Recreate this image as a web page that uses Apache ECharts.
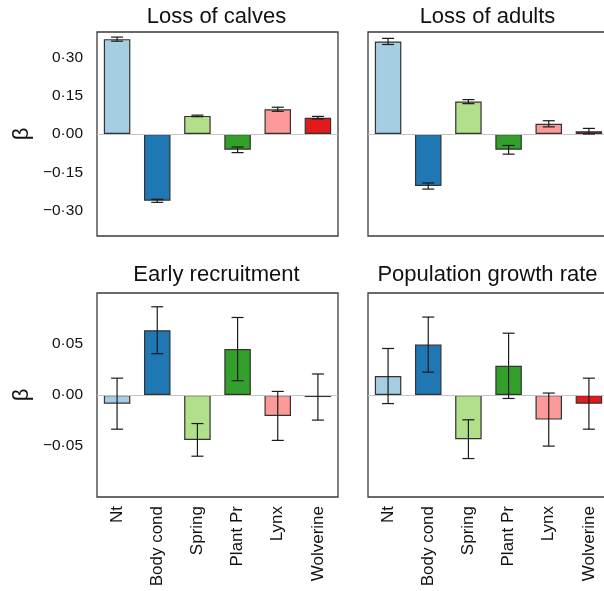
<!DOCTYPE html>
<html>
<head>
<meta charset="utf-8">
<script src="https://cdn.jsdelivr.net/npm/echarts@6/dist/echarts.min.js"></script>
<style>
html,body{margin:0;padding:0;background:#fff;}
#chart{width:604px;height:591px;}
</style>
</head>
<body>
<div id="chart"></div>
<script>
const categories = ['Nt', 'Body cond', 'Spring', 'Plant Pr', 'Lynx', 'Wolverine'];
const panelTitles = ['Loss of calves', 'Loss of adults', 'Early recruitment', 'Population growth rate'];

const calvesBeta = [0.372, -0.262, 0.071, -0.062, 0.097, 0.064];
const calvesSE   = [0.008, 0.006, 0.003, 0.011, 0.008, 0.005];
const adultsBeta = [0.363, -0.204, 0.127, -0.062, 0.040, 0.011];
const adultsSE   = [0.012, 0.012, 0.008, 0.017, 0.012, 0.011];
const recruitBeta = [-0.0085, 0.0635, -0.044, 0.045, -0.0205, -0.002];
const recruitSE   = [0.025, 0.023, 0.016, 0.031, 0.024, 0.0226];
const growthBeta = [0.0186, 0.0494, -0.0433, 0.0286, -0.0241, -0.0085];
const growthSE   = [0.027, 0.027, 0.019, 0.032, 0.026, 0.025];

const topTicks = [-0.30, -0.15, 0, 0.15, 0.30];
const bottomTicks = [-0.05, 0, 0.05];

const barColors = ['#A6CEE3', '#1F78B4', '#B2DF8A', '#33A02C', '#FB9A99', '#E31A1C'];
const FONT = '"Liberation Sans", Arial, Helvetica, sans-serif';

const panels = [
  {beta: calvesBeta, se: calvesSE, left: 97, top: 32, min: -0.4, max: 0.4, ticks: topTicks, showY: true, showX: false},
  {beta: adultsBeta, se: adultsSE, left: 368, top: 32, min: -0.4, max: 0.4, ticks: topTicks, showY: false, showX: false},
  {beta: recruitBeta, se: recruitSE, left: 97, top: 293, min: -0.1, max: 0.1, ticks: bottomTicks, showY: true, showX: true},
  {beta: growthBeta, se: growthSE, left: 368, top: 293, min: -0.1, max: 0.1, ticks: bottomTicks, showY: false, showX: true}
];
const GW = 241, GH = 204;

function fmt(v) {
  const s = Math.abs(v).toFixed(2).replace('.', '\u00B7');
  return (v < -1e-9 ? '\u2212' : '') + s;
}

const grid = [], xAxis = [], yAxis = [], series = [], title = [];
panels.forEach((p, k) => {
  grid.push({left: p.left, top: p.top, width: GW, height: GH, show: true,
    borderColor: '#3a3a3a', borderWidth: 1.3, backgroundColor: 'transparent',
    containLabel: false, outerBoundsMode: 'none'});
  title.push({text: panelTitles[k], left: p.left + GW / 2 - 1, top: k < 2 ? 6 : 264, textAlign: 'center', padding: 0,
    textStyle: {fontFamily: FONT, fontSize: 22, fontWeight: 'normal', color: '#111'}});
  xAxis.push({type: 'category', gridIndex: k, data: categories, boundaryGap: true,
    axisLine: {show: false}, axisTick: {show: false}, splitLine: {show: false},
    axisLabel: {show: p.showX, rotate: 90, margin: 9, interval: 0, fontFamily: FONT, fontSize: 17, color: '#111'}});
  yAxis.push({type: 'value', gridIndex: k, min: p.min, max: p.max,
    axisLine: {show: false}, axisTick: {show: false}, splitLine: {show: false},
    name: p.showY ? '\u03B2' : '', nameLocation: 'middle', nameRotate: 90, nameGap: 64,
    nameTextStyle: {fontFamily: FONT, fontSize: 22, color: '#111'},
    axisLabel: {show: p.showY, customValues: p.ticks, margin: 14, fontFamily: FONT, fontSize: 15.5, color: '#111',
      formatter: fmt}});
  series.push({type: 'bar', xAxisIndex: k, yAxisIndex: k, barWidth: '66%',
    data: p.beta.map((v, i) => ({value: v, itemStyle: {color: barColors[i]}})),
    itemStyle: {borderColor: '#333', borderWidth: 1.2},
    markLine: {silent: true, symbol: 'none', label: {show: false},
      lineStyle: {color: '#c4c4c4', type: 'solid', width: 1.2}, data: [{yAxis: 0}]},
    animation: false});
  series.push({type: 'custom', xAxisIndex: k, yAxisIndex: k, z: 5,
    data: p.beta.map((v, i) => [i, v - p.se[i], v + p.se[i]]),
    renderItem: function (params, api) {
      const x = api.value(0);
      const lo = api.coord([x, api.value(1)]);
      const hi = api.coord([x, api.value(2)]);
      const hw = 6;
      const st = {stroke: '#1a1a1a', lineWidth: 1.2};
      return {type: 'group', children: [
        {type: 'line', shape: {x1: lo[0], y1: lo[1], x2: hi[0], y2: hi[1]}, style: st},
        {type: 'line', shape: {x1: lo[0] - hw, y1: lo[1], x2: lo[0] + hw, y2: lo[1]}, style: st},
        {type: 'line', shape: {x1: hi[0] - hw, y1: hi[1], x2: hi[0] + hw, y2: hi[1]}, style: st}
      ]};
    },
    animation: false});
});

const chart = echarts.init(document.getElementById('chart'), null, {renderer: 'canvas'});
chart.setOption({backgroundColor: '#fff', animation: false, title, grid, xAxis, yAxis, series});
</script>
</body>
</html>
